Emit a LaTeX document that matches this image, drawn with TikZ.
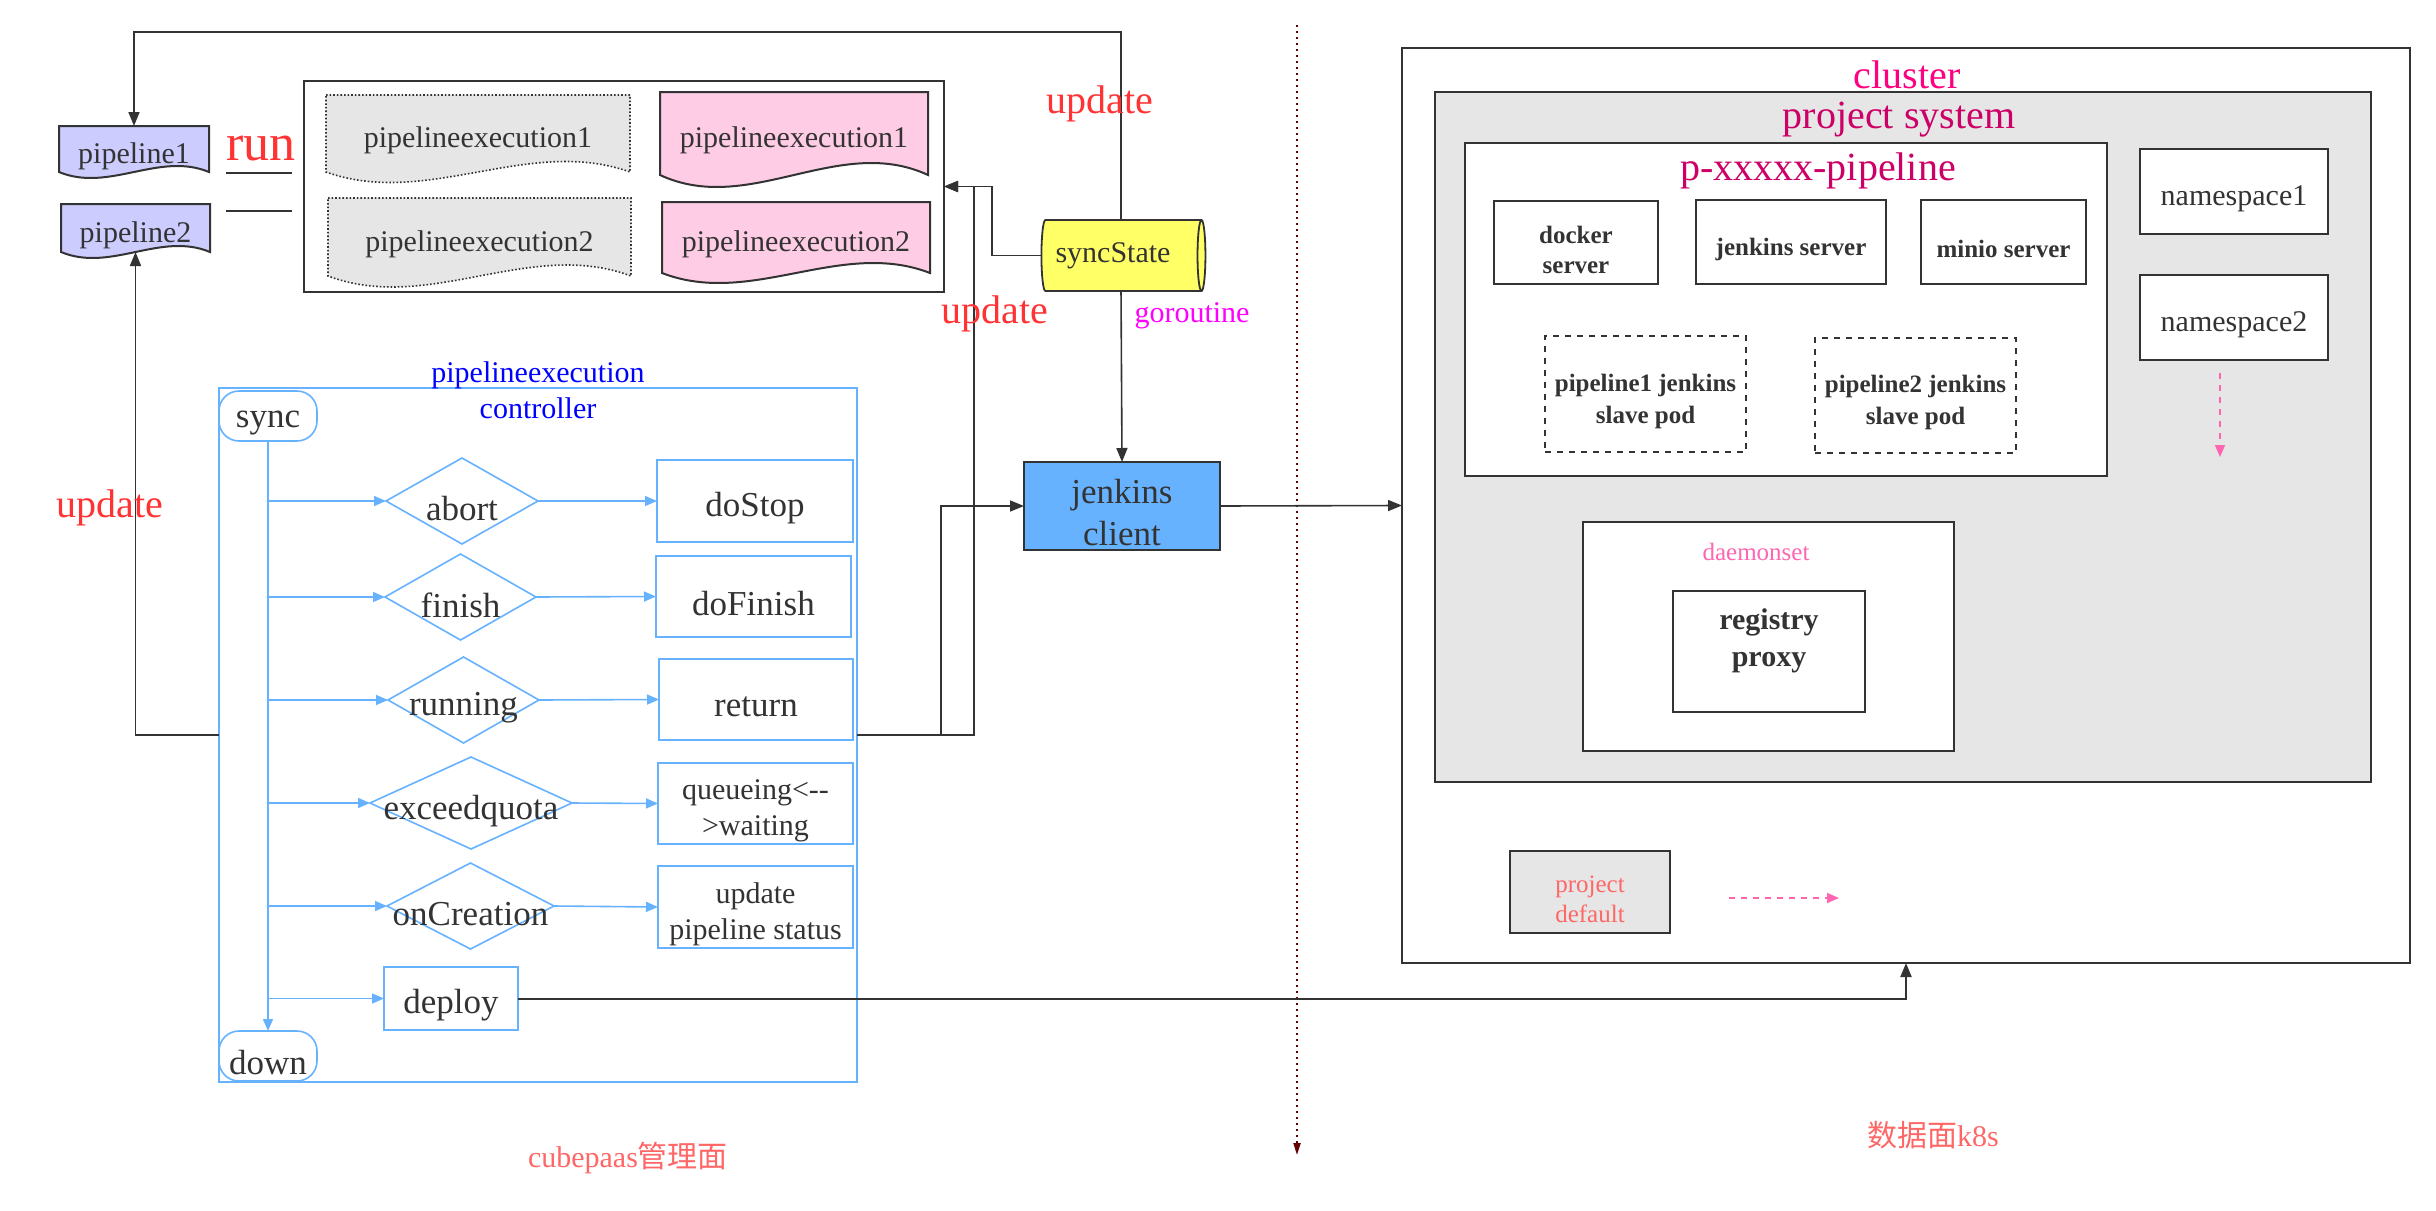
\documentclass[tikz,border=0pt]{standalone}
\usepackage{fontspec}
\setmainfont{Liberation Serif}
\newfontfamily\cjk{Noto Sans CJK SC}
\usetikzlibrary{arrows.meta,shapes.geometric}
\definecolor{ink}{HTML}{333333}
\definecolor{cblue}{HTML}{66B2FF}
\definecolor{lgrey}{HTML}{E6E6E6}
\definecolor{pinkfill}{HTML}{FFCCE6}
\definecolor{bluefill}{HTML}{CCCCFF}
\definecolor{yel}{HTML}{FFFF66}
\definecolor{tred}{HTML}{FF3333}
\definecolor{tblue}{HTML}{0000FF}
\definecolor{tmag}{HTML}{FF00FF}
\definecolor{clpink}{HTML}{FF0080}
\definecolor{dpink}{HTML}{CC0066}
\definecolor{lpink}{HTML}{FF66B2}
\definecolor{lred}{HTML}{FF6666}
\definecolor{dkred}{HTML}{660000}
% box: name, x1, y1, x2, y2, shape style, text style, text
\newcommand\placebox[8]{%
  \node[#6,minimum width={(#4-#2)*0.5pt},minimum height={(#5-#3)*0.5pt}] (#1) at ({(#2+#4)/2},{(#3+#5)/2}) {};
  \node[plain,#7] (#1-t) at ([yshift=-3.5pt]#1.center) {#8};}
\newcommand\docnode[8]{%
  \draw[#7] (#2,#3) -- (#4,#3) -- (#4,#5) .. controls ({#4-(#4-#2)/3},{#5-3.46*#6}) and ({#2+(#4-#2)/3},{#5+3.46*#6}) .. (#2,#5) -- cycle;
  \placebox{#1}{#2}{#3}{#4}{#5}{plain}{f15}{#8}}
\newcommand\dia[6]{%
  \node[diam,minimum width={#4*0.5pt},minimum height={#5*0.5pt}] (#1) at (#2,#3) {};
  \node[plain,f17] (#1-t) at ([yshift=-4pt]#1.center) {#6};}
\begin{document}
\begin{tikzpicture}[x=0.5pt,y=-0.5pt,
  f12/.style={font=\fontsize{12.5}{15}\selectfont},
  f15/.style={font=\fontsize{15}{18}\selectfont},
  f17/.style={font=\fontsize{17.5}{21}\selectfont},
  f20/.style={font=\fontsize{20}{24}\selectfont},
  b12/.style={font=\fontsize{12.5}{15}\selectfont\bfseries},
  b15/.style={font=\fontsize{15}{18.5}\selectfont\bfseries},
  plain/.style={inner sep=0pt,outer sep=0pt,text=ink,align=center},
  dbox/.style={plain,draw=ink,line width=1pt,fill=white},
  bbox/.style={plain,draw=cblue,line width=0.8pt,fill=white},
  diam/.style={diamond,draw=cblue,line width=0.8pt,fill=white,inner sep=0pt,outer sep=0pt},
  line/.style={draw=ink,line width=0.8pt},
  arr/.style={-{Triangle[length=7pt,width=5.5pt]}},
  barr/.style={draw=cblue,line width=0.8pt,-{Triangle[length=6pt,width=5pt]}},
  greydoc/.style={draw=ink,line width=0.8pt,densely dotted,fill=lgrey},
  pinkdoc/.style={draw=ink,line width=1pt,fill=pinkfill},
  bluedoc/.style={draw=ink,line width=1pt,fill=bluefill},
  pinkarr/.style={draw=lpink,line width=0.8pt,dashed,-{Triangle[length=6pt,width=5pt]}},
  lbl/.style={inner sep=0pt,outer sep=0pt,align=center}
]
\useasboundingbox (0,0) rectangle (2436,1210);

% ---------------- data plane (cluster) ----------------
\placebox{cluster}{1402}{48}{2410}{963}{dbox,line width=1.2pt}{}{}
\node[lbl,f20,text=clpink] (clusterlbl) at (1907,75) {cluster};
\placebox{projsys}{1435}{92}{2371}{782}{dbox,fill=lgrey}{}{}
\node[lbl,f20,text=dpink] (projsyslbl) at (1899,120) {project system};
\placebox{pxp}{1465}{143}{2107}{476}{dbox}{}{}
\node[lbl,f20,text=dpink] (pxplbl) at (1818,171) {p-xxxxx-pipeline};
\placebox{docker}{1494}{201}{1658}{284}{dbox}{b12}{docker\\server}
\placebox{jserver}{1696}{200}{1886}{284}{dbox}{b12}{jenkins server}
\placebox{minio}{1921}{200}{2086}{284}{dbox}{b12}{minio server}
\placebox{slave1}{1545}{336}{1746}{452}{dbox,dashed}{b12,font=\fontsize{12.5}{16}\selectfont\bfseries}{pipeline1 jenkins\\slave pod}
\placebox{slave2}{1815}{338}{2016}{453}{dbox,dashed}{b12,font=\fontsize{12.5}{16}\selectfont\bfseries}{pipeline2 jenkins\\slave pod}
\placebox{ns1}{2140}{149}{2328}{234}{dbox}{f15}{namespace1}
\placebox{ns2}{2140}{275}{2328}{360}{dbox}{f15}{namespace2}
\coordinate (nsA) at (2220,373);
\coordinate (nsB) at (2220,457);
\draw[pinkarr] (nsA) -- (nsB);
\placebox{daemon}{1583}{522}{1954}{751}{dbox}{}{}
\node[lbl,f12,text=lpink] (daemonlbl) at (1756,552) {daemonset};
\placebox{registry}{1673}{591}{1865}{712}{dbox}{}{}
\node[lbl,b15,text=ink] (registrylbl) at (1769,641) {registry\\proxy};
\placebox{pdefault}{1510}{851}{1670}{933}{dbox,fill=lgrey}{f12,text=lred}{project\\default}
\coordinate (pdA) at (1729,898);
\coordinate (pdB) at (1839,898);
\draw[pinkarr] (pdA) -- (pdB);

% ---------------- divider ----------------
\coordinate (dv1) at (1297,25);
\coordinate (dv2) at (1297,1155);
\draw[dkred,dotted,line width=1pt,-{Triangle[length=6pt,width=3.5pt]}] (dv1) -- (dv2);

% ---------------- pipelines & executions ----------------
\placebox{bigbox}{304}{81}{944}{292}{dbox}{}{}
\docnode{pe1g}{326}{95}{630}{172}{10.5}{greydoc}{pipelineexecution1}
\docnode{pe1p}{660}{92}{928}{175}{12}{pinkdoc}{pipelineexecution1}
\docnode{pe2g}{328}{198}{631}{276}{11}{greydoc}{pipelineexecution2}
\docnode{pe2p}{662}{202}{930}{273}{10}{pinkdoc}{pipelineexecution2}
\docnode{p1}{59}{126}{209}{172}{6}{bluedoc}{pipeline1}
\docnode{p2}{61}{204}{210}{252}{6}{bluedoc}{pipeline2}
\node[lbl,text=tred,font=\fontsize{26}{30}\selectfont] (runlbl) at (261,149) {run};
\coordinate (r1a) at (226,173);
\coordinate (r1b) at (292,173);
\coordinate (r2a) at (226,211);
\coordinate (r2b) at (292,211);
\draw[line,line width=0.7pt] (r1a) -- (r1b);
\draw[line,line width=1.3pt] (r2a) -- (r2b);

% ---------------- syncState & jenkins client ----------------
\node[cylinder,draw=ink,line width=0.9pt,fill=yel,minimum height=82pt,minimum width=35.5pt,aspect=0.3,inner sep=0pt,outer sep=0pt,text=ink,f15] (sync) at (1121,255.5) {\raisebox{-3pt}{syncState}\hspace*{8pt}};
\placebox{jclient}{1024}{462}{1220}{550}{dbox,fill=cblue}{f17}{jenkins\\client}

% ---------------- controller ----------------
\placebox{ctrl}{219}{388}{857}{1082}{bbox,fill=none}{}{}
\node[lbl,f15,text=tblue] (ctrllbl) at (538,390) {pipelineexecution\\controller};
\placebox{syncn}{219}{391}{317}{441}{bbox,rounded corners=10pt}{f17}{sync}
\placebox{downn}{219}{1031}{317}{1081}{bbox,rounded corners=10pt}{f17}{down}
\dia{abort}{462}{501}{152}{86}{abort}
\dia{finish}{460.5}{597}{151}{86}{finish}
\dia{running}{463.5}{700}{151}{86}{running}
\dia{exceed}{471}{803}{202}{92}{exceedquota}
\dia{oncreate}{470.5}{906}{167}{86}{onCreation}
\placebox{dostop}{657}{460}{853}{542}{bbox}{f17}{doStop}
\placebox{dofinish}{656}{556}{851}{637}{bbox}{f17}{doFinish}
\placebox{ret}{659}{659}{853}{740}{bbox}{f17}{return}
\placebox{queue}{658}{763}{853}{844}{bbox}{f15}{queueing<-{}-\\>waiting}
\placebox{upd}{658}{866}{853}{948}{bbox}{f15}{update\\pipeline status}
\placebox{deploy}{384}{967}{518}{1030}{bbox}{f17}{deploy}

\draw[barr] (syncn.south) -- (downn.north);
\foreach \d/\b in {abort/dostop,finish/dofinish,running/ret,exceed/queue,oncreate/upd}{
  \draw[barr] (syncn.south |- \d.west) -- (\d.west);
  \draw[barr] (\d.east) -- (\b.west);
}
\draw[barr] (syncn.south |- deploy.west) -- (deploy.west);

% ---------------- connectors ----------------
\coordinate (row) at (0,735);
\coordinate (topy) at (0,32);
\coordinate (j1) at (974,735);
\coordinate (j2) at (941,735);
\coordinate (s1) at (992,0);
\draw[line,arr] (sync.north) -- (sync.north |- topy) -| (p1.north);
\draw[line,arr] (sync.west) -| (s1 |- bigbox.east) -- (bigbox.east);
\draw[line,arr] (ctrl.east |- row) -- (j1) |- (bigbox.east);
\draw[line,arr] (j2) |- (jclient.west);
\draw[line,arr] (ctrl.west |- row) -| (p2.south);
\draw[line,arr] (sync.south) -- (jclient.north);
\draw[line,arr] (jclient.east) -- (cluster.west);
\draw[line,line width=1pt,arr] (deploy.east) -| (cluster.south);

\node[lbl,f20,text=tred] (upd1) at (1100,104) {update};
\node[lbl,f20,text=tred] (upd2) at (995,314) {update};
\node[lbl,f20,text=tred] (upd3) at (110,508) {update};
\node[lbl,f15,text=tmag] (gor) at (1192,316) {goroutine};

\node[lbl,f15,text=lred] (cpl) at (628,1158) {cubepaas{\cjk 管理面}};
\node[lbl,f15,text=lred] (dpl) at (1933,1135) {{\cjk 数据面}k8s};
\end{tikzpicture}
\end{document}
